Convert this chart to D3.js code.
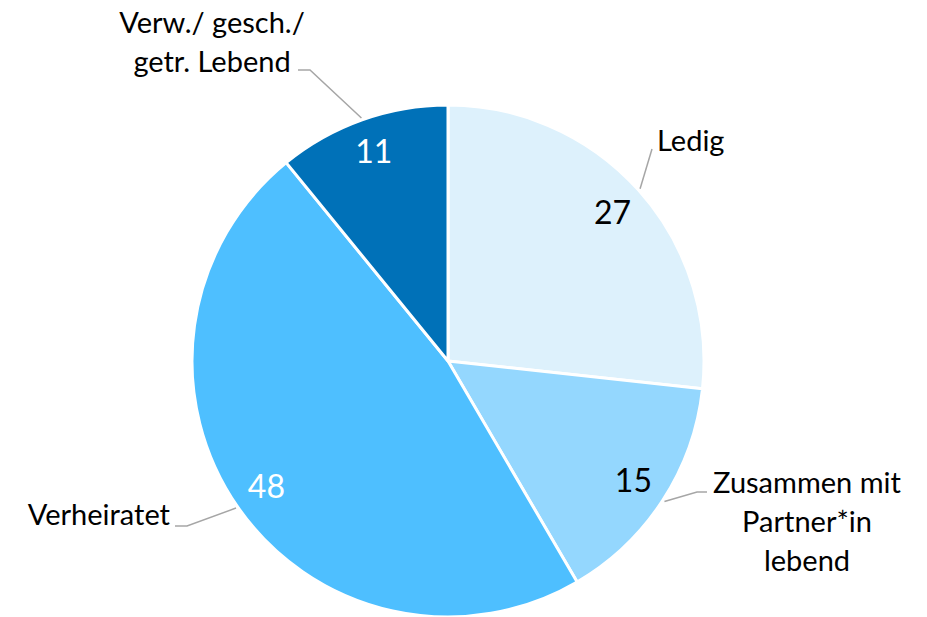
<!DOCTYPE html>
<html>
<head>
<meta charset="utf-8">
<script src="https://cdn.jsdelivr.net/npm/d3@7"></script>
<style>
  body { margin: 0; background: #fff; }
  text { font-family: Lato, "Open Sans", sans-serif; }
</style>
</head>
<body>
<div id="chart"></div>
<script>
// Data
const categories = ["Ledig", "Zusammen mit Partner*in lebend", "Verheiratet", "Verw./ gesch./ getr. Lebend"];
const values = [27, 15, 48, 11];
const labelLines = [["Ledig"], ["Zusammen mit", "Partner*in", "lebend"], ["Verheiratet"], ["Verw./ gesch./", "getr. Lebend"]];
const colors = ["#DDF1FC", "#94D7FE", "#4EBFFF", "#0071B8"];
const valueColors = ["#000", "#000", "#fff", "#fff"];

const width = 927, height = 617;
const cx = 448, cy = 361, radius = 256;
const lineGap = 39;

const svg = d3.select("#chart").append("svg")
    .attr("width", width)
    .attr("height", height);

const g = svg.append("g")
    .attr("transform", "translate(" + cx + "," + cy + ")");

const pie = d3.pie().sort(null).value(d => d)(values);

const arc = d3.arc().innerRadius(0).outerRadius(radius);
const valueArc = d3.arc().innerRadius(221).outerRadius(221);
const edgeArc = d3.arc().innerRadius(258).outerRadius(258);

// Slices
g.selectAll(".slice")
    .data(pie)
  .enter().append("path")
    .attr("class", "slice")
    .attr("d", arc)
    .attr("fill", (d, i) => colors[i])
    .attr("stroke", "#fff")
    .attr("stroke-width", 3)
    .attr("stroke-linejoin", "round");

// Value labels
g.selectAll(".value")
    .data(pie)
  .enter().append("text")
    .attr("class", "value")
    .attr("x", d => valueArc.centroid(d)[0])
    .attr("y", d => valueArc.centroid(d)[1])
    .attr("dy", "0.33em")
    .attr("text-anchor", "middle")
    .attr("font-size", "32px")
    .attr("fill", (d, i) => valueColors[i])
    .text(d => d.data);

// Category label layout (leader elbow, tail end, text anchor) relative to centre
const layout = [
    { elbow: [204, -212], tail: null, tx: 209, ty: -220, anchor: "start" },
    { elbow: [249, 131], tail: [259, 131], tx: 359, ty: 161, anchor: "middle" },
    { elbow: [-261, 165], tail: [-273, 165], tx: -278, ty: 154, anchor: "end" },
    { elbow: [-138, -291], tail: [-150, -291], tx: -236, ty: -319, anchor: "middle" }
];

// Leader lines
g.selectAll(".leader")
    .data(pie)
  .enter().append("polyline")
    .attr("class", "leader")
    .attr("fill", "none")
    .attr("stroke", "#A6A6A6")
    .attr("stroke-width", 1.5)
    .attr("points", (d, i) => {
        const pts = [edgeArc.centroid(d), layout[i].elbow];
        if (layout[i].tail) pts.push(layout[i].tail);
        return pts.map(p => p.join(",")).join(" ");
    });

// Category labels
const labels = g.selectAll(".label")
    .data(pie)
  .enter().append("text")
    .attr("class", "label")
    .attr("font-size", "29px")
    .attr("fill", "#000")
    .attr("text-anchor", (d, i) => layout[i].anchor);

labels.each(function(d, i) {
    const lines = labelLines[i];
    const t = d3.select(this);
    const startY = layout[i].ty - (lines.length - 1) * lineGap / 2;
    lines.forEach((line, j) => {
        t.append("tspan")
            .attr("x", layout[i].tx)
            .attr("y", startY + j * lineGap)
            .attr("dy", "0.35em")
            .text(line);
    });
});
</script>
</body>
</html>
